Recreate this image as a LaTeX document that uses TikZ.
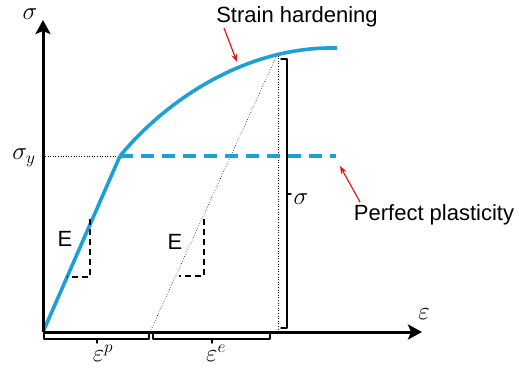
\documentclass[tikz,border=0pt]{standalone}
\usepackage{fontspec}
\setmainfont{Liberation Sans}
\usetikzlibrary{arrows.meta}
\definecolor{curveblue}{RGB}{28,160,214}
\definecolor{arrred}{RGB}{230,20,20}
\begin{document}
\begin{tikzpicture}[x=1pt,y=-1pt,
  axis/.style={line width=3pt,-{Stealth[length=14pt,width=15pt,inset=3pt]}},
  curve/.style={curveblue,line width=3.6pt},
  guide/.style={line width=0.6pt,dotted},
  bracketline/.style={line width=1.4pt,line cap=round,line join=round},
  slope/.style={line width=1.3pt,dash pattern=on 6pt off 4pt},
  redarrow/.style={arrred,line width=1.2pt,-{Stealth[length=8pt,width=6pt]}},
  label/.style={font=\fontsize{22}{24}\selectfont,inner sep=0pt},
  mlabel/.style={font=\fontsize{25}{27}\selectfont,inner sep=0pt}]
\useasboundingbox (0,0) rectangle (519,369);
% key points
\coordinate (O) at (43,332);
\coordinate (Ytip) at (43,20);
\coordinate (Xtip) at (422,332);
\coordinate (Yld) at (120,156);
\coordinate (Ydot) at (45,156);
\coordinate (PPend) at (336,156);
\coordinate (Peak) at (278,53);
\coordinate (HEnd) at (337,48);
\coordinate (Unl) at (150,332);
\coordinate (PeakFoot) at (278,332);
% guides
\draw[guide] (Ydot) -- (Yld);
\draw[guide] (Peak) -- (Unl);
\draw[guide] (Peak) -- (PeakFoot);
% curves
\draw[curve] (O) -- (Yld);
\draw[curve,dash pattern=on 13pt off 8pt] (Yld) -- (PPend);
\draw[curve,line cap=butt] (Yld) .. controls (168,98) and (248,46) .. (HEnd);
% axes
\draw[axis] (O) -- (Ytip);
\draw[axis] (O) -- (Xtip);
% slope triangles
\coordinate (E1t) at (90,219);
\coordinate (E1c) at (90,277);
\coordinate (E1l) at (67,277);
\draw[slope] (E1t) -- (E1c) -- (E1l);
\coordinate (E2t) at (204,219);
\coordinate (E2c) at (204,276);
\coordinate (E2l) at (179,276);
\draw[slope] (E2t) -- (E2c) -- (E2l);
\node[label] (E1) at (65,239) {E};
\node[label] (E2) at (175,242) {E};
% sigma bracket
\coordinate (Sb1) at (281,59);
\coordinate (Sb2) at (287,59);
\coordinate (Sb3) at (287,328);
\coordinate (Sb4) at (281,328);
\coordinate (Sm1) at (287,194);
\coordinate (Sm2) at (291,194);
\draw[bracketline] (Sb1) -- (Sb2) -- (Sb3) -- (Sb4);
\draw[bracketline] (Sm1) -- (Sm2);
% strain brackets
\coordinate (Pa) at (44,334);
\coordinate (Pb) at (44,339);
\coordinate (Pc) at (149,339);
\coordinate (Pd) at (149,334);
\coordinate (Pm1) at (97,339);
\coordinate (Pm2) at (97,343);
\draw[bracketline] (Pa) -- (Pb) -- (Pc) -- (Pd);
\draw[bracketline] (Pm1) -- (Pm2);
\coordinate (Ea) at (153,334);
\coordinate (Eb) at (153,339);
\coordinate (Ec) at (270,339);
\coordinate (Ed) at (270,334);
\coordinate (Em1) at (212,339);
\coordinate (Em2) at (212,343);
\draw[bracketline] (Ea) -- (Eb) -- (Ec) -- (Ed);
\draw[bracketline] (Em1) -- (Em2);
% math labels
\node[mlabel] (sig) at (30,14) {$\sigma$};
\node[mlabel] (sigy) at (24,158) {$\sigma_y$};
\node[mlabel] (eps) at (424,314) {$\varepsilon$};
\node[mlabel] (sigb) at (301,199) {$\sigma$};
\node[mlabel] (epsp) at (103,353) {$\varepsilon^p$};
\node[mlabel] (epse) at (216,353) {$\varepsilon^e$};
% text labels
\node[label] (SH) at (297,17) {Strain hardening};
\node[label] (PP) at (434,215) {Perfect plasticity};
\coordinate (SHtip) at (237,62);
\coordinate (PPtip) at (340,166);
\draw[redarrow] (224,28) -- (SHtip);
\draw[redarrow] (360,202) -- (PPtip);
\end{tikzpicture}
\end{document}
